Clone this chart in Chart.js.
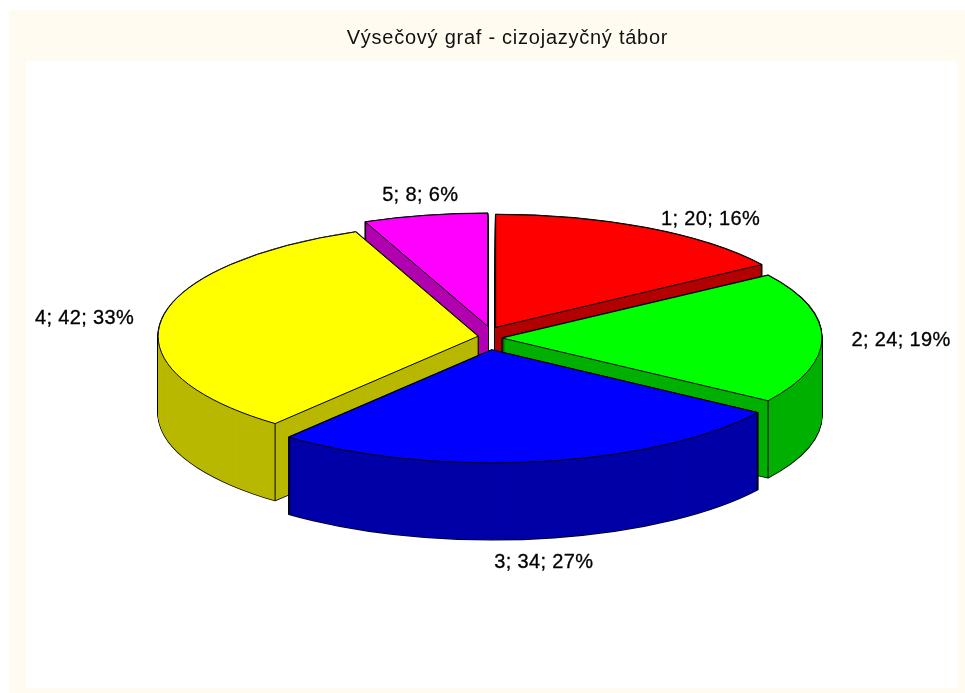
<!DOCTYPE html>
<html lang="cs">
<head>
<meta charset="utf-8">
<title>Výsečový graf - cizojazyčný tábor</title>
<script src="https://cdn.jsdelivr.net/npm/chart.js@4"></script>
<style>
html,body{margin:0;padding:0;background:#fff;}
#wrap{position:relative;width:965px;height:693px;}
</style>
</head>
<body>
<div id="wrap"><canvas id="c"></canvas></div>
<script>
const chartTitle = 'Výsečový graf - cizojazyčný tábor';
const categories = ['1', '2', '3', '4', '5'];
const counts = [20, 24, 34, 42, 8];
const faceColors = ['#FF0000', '#00FF00', '#0000FF', '#FFFF00', '#FF00FF'];
const wallColors = ['#B30000', '#00B000', '#0000A8', '#B8B800', '#B000B0'];
const drawOrder = [4, 0, 3, 1, 2];

const FONT = '"Liberation Sans", Arial, sans-serif';
const view = {cx: 490, cy: 338, rx: 320, ry: 113, depth: 77, explode: 12};
const labelNudge = [[64, -8], [79, 2], [5, 101], [-77, -1], [-5, -20]];
const total = counts.reduce((a, b) => a + b, 0);

function geometry(arc) {
  const p = arc.getProps(['x', 'y', 'startAngle', 'endAngle', 'outerRadius'], true);
  const mid = (p.startAngle + p.endAngle) / 2;
  return {
    p, mid,
    ax: view.cx + Math.cos(mid) * view.explode,
    ay: view.cy + Math.sin(mid) * view.explode,
    sx: view.rx / p.outerRadius,
    sy: view.ry / p.outerRadius
  };
}
function wedge(ctx, g, d) {
  ctx.beginPath();
  ctx.moveTo(g.ax, g.ay + d);
  ctx.ellipse(g.ax, g.ay + d, view.rx, view.ry, 0, g.p.startAngle, g.p.endAngle);
  ctx.closePath();
}
const pie3d = {
  id: 'pie3d',
  afterLayout(chart) {
    chart.titleBlock.left += 16;
    chart.titleBlock.right += 16;
  },
  beforeDraw(chart) {
    const {ctx, chartArea: a, width, height} = chart;
    ctx.save();
    ctx.fillStyle = '#FFFBF0';
    ctx.fillRect(9, 10, width - 9, height - 10);
    ctx.fillStyle = '#FFFFFF';
    ctx.fillRect(a.left, a.top, a.right - a.left, a.bottom - a.top);
    ctx.restore();
    ctx.letterSpacing = '0.75px'; // wide setting of the title
  },
  beforeDatasetsDraw(chart) {
    const ctx = chart.ctx;
    ctx.letterSpacing = '0px';
    const arcs = chart.getDatasetMeta(0).data;
    ctx.save();
    ctx.lineJoin = 'round';
    drawOrder.forEach(i => {
      const arc = arcs[i], g = geometry(arc);
      // silhouette of the extruded wedge
      ctx.strokeStyle = '#000';
      ctx.lineWidth = 1.4;
      for (let d = view.depth; d >= 0; d -= 1) { wedge(ctx, g, d); ctx.stroke(); }
      ctx.fillStyle = wallColors[i];
      for (let d = view.depth; d >= 0; d -= 1) { wedge(ctx, g, d); ctx.fill(); }
      // vertical corners between the walls
      ctx.lineWidth = 1;
      [g.p.startAngle, g.p.endAngle].forEach(t => {
        const x = g.ax + view.rx * Math.cos(t), y = g.ay + view.ry * Math.sin(t);
        ctx.beginPath();
        ctx.moveTo(x, y);
        ctx.lineTo(x, y + view.depth);
        ctx.stroke();
      });
      // top face: the library's own arc element under the projection
      ctx.save();
      ctx.translate(g.ax, g.ay);
      ctx.scale(g.sx, g.sy);
      ctx.translate(-g.p.x, -g.p.y);
      arc.draw(ctx);
      ctx.restore();
      wedge(ctx, g, 0);
      ctx.lineWidth = 1;
      ctx.stroke();
    });
    ctx.restore();
    return false;
  },
  afterDraw(chart) {
    const ctx = chart.ctx;
    const arcs = chart.getDatasetMeta(0).data;
    ctx.save();
    ctx.font = '20px ' + FONT;
    ctx.letterSpacing = '0.35px';
    ctx.fillStyle = '#000';
    ctx.strokeStyle = '#000';
    ctx.lineWidth = 0.3;
    ctx.textAlign = 'center';
    ctx.textBaseline = 'middle';
    arcs.forEach((arc, i) => {
      const g = geometry(arc);
      const x = g.ax + view.rx * Math.cos(g.mid) + labelNudge[i][0];
      const y = g.ay + view.ry * Math.sin(g.mid) + labelNudge[i][1];
      const pct = Math.round(counts[i] / total * 100);
      const text = categories[i] + '; ' + counts[i] + '; ' + pct + '%';
      ctx.fillText(text, x, y);
      ctx.strokeText(text, x, y);
    });
    ctx.restore();
  }
};

new Chart(document.getElementById('c'), {
  type: 'pie',
  data: {
    labels: categories,
    datasets: [{data: counts, backgroundColor: faceColors, borderWidth: 0, hoverOffset: 0}]
  },
  options: {
    responsive: true,
    maintainAspectRatio: false,
    animation: false,
    events: [],
    layout: {padding: {left: 26, right: 8, top: 0, bottom: 5}},
    plugins: {
      legend: {display: false},
      tooltip: {enabled: false},
      title: {
        display: true,
        text: chartTitle,
        color: '#111',
        font: {family: FONT, size: 20, weight: 'normal'},
        padding: {top: 26, bottom: 11}
      }
    }
  },
  plugins: [pie3d]
});
</script>
</body>
</html>
